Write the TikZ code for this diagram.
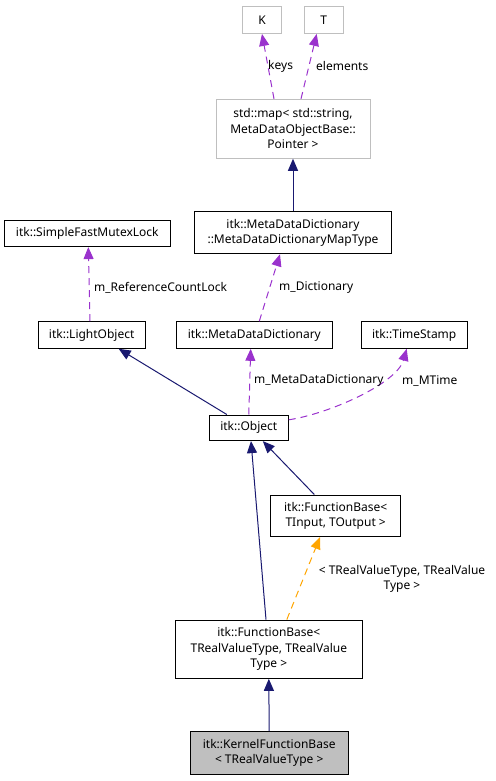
\documentclass[tikz,border=0pt]{standalone}
\usepackage{fontspec}
\setmainfont{Noto Sans}
\usetikzlibrary{arrows.meta}
\definecolor{edgenavy}{HTML}{191970}
\definecolor{edgepurple}{HTML}{9A32CD}
\definecolor{edgeorange}{HTML}{FFA500}
\definecolor{boxgray}{HTML}{BFBFBF}
\begin{document}
\begin{tikzpicture}[x=1pt,y=-1pt,font=\fontsize{12}{15.5}\selectfont,
    cls/.style={draw=black,line width=0.9pt,align=center,inner sep=0pt},
    extcls/.style={cls,draw=boxgray},
    inherit/.style={edgenavy,line width=1pt,-{Triangle[length=12pt,width=10pt]}},
    member/.style={edgepurple,line width=1pt,dash pattern=on 7pt off 5pt,-{Triangle[length=12pt,width=10pt]}},
    tmpl/.style={edgeorange,line width=1pt,dash pattern=on 7pt off 5pt,-{Triangle[length=12pt,width=10pt]}},
    lbl/.style={anchor=west,inner sep=0pt}]
  \useasboundingbox (0,0) rectangle (495,781);
  % classes
  \node[extcls,minimum width=39,minimum height=27] (K) at (262,20) {K};
  \node[extcls,minimum width=39,minimum height=27] (T) at (323.7,20) {T};
  \node[extcls,minimum width=154,minimum height=59] (map) at (293,128.8) {std::map< std::string,\\MetaDataObjectBase::\\Pointer >};
  \node[cls,minimum width=166.7,minimum height=26.7] (mutex) at (87.3,233.3) {itk::SimpleFastMutexLock};
  \node[cls,minimum width=197,minimum height=42] (maptype) at (293,232.8) {itk::MetaDataDictionary\\::MetaDataDictionaryMapType};
  \node[cls,minimum width=106.7,minimum height=26.7] (light) at (91.7,335) {itk::LightObject};
  \node[cls,minimum width=156.7,minimum height=26.7] (dict) at (254.3,335) {itk::MetaDataDictionary};
  \node[cls,minimum width=106.3,minimum height=26.7] (stamp) at (414.2,335) {itk::TimeStamp};
  \node[cls,minimum width=79,minimum height=25.7] (obj) at (248.8,427.8) {itk::Object};
  \node[cls,minimum width=130,minimum height=41.7] (fbio) at (335.7,515.8) {itk::FunctionBase<\\TInput, TOutput >};
  \node[cls,minimum width=187.7,minimum height=58.3] (fbreal) at (268.8,649.2) {itk::FunctionBase<\\TRealValueType, TRealValue\\Type >};
  \node[cls,fill=boxgray,minimum width=158.3,minimum height=42.3] (kernel) at (269.2,752.8) {itk::KernelFunctionBase\\< TRealValueType >};
  % connectors
  \draw[member] ([xshift=-19]map.north) -- (K.south);
  \draw[member] ([xshift=8]map.north) -- ([xshift=-7]T.south);
  \draw[inherit] (maptype.north) -- (map.south);
  \draw[member] ([xshift=-1.7]light.north) -- ([xshift=1]mutex.south);
  \draw[member] ([xshift=5]dict.north) -- ([xshift=-13]maptype.south);
  \draw[inherit] ([xshift=-22]obj.north) -- ([xshift=27]light.south);
  \draw[member] (obj.north) -- ([xshift=-3.6]dict.south);
  \draw[member] ([yshift=8]obj.east) .. controls +(40,-6) and +(-10,35) .. ([xshift=-7.5]stamp.south);
  \draw[inherit] ([xshift=-2.8]fbreal.north) -- ([xshift=2.2]obj.south);
  \draw[inherit] ([xshift=-21.4]fbio.north) -- ([xshift=14]obj.south);
  \draw[tmpl] ([xshift=18]fbreal.north) -- ([xshift=-15.7]fbio.south);
  \draw[inherit] (kernel.north) -- (fbreal.south);
  % labels
  \node[lbl] (keyslbl) at (268,66) {keys};
  \node[lbl] (elemlbl) at (316,66) {elements};
  \node[lbl] (locklbl) at (94,288) {m\_ReferenceCountLock};
  \node[lbl] (dictlbl) at (279,288) {m\_Dictionary};
  \node[lbl] (mddlbl) at (254,381) {m\_MetaDataDictionary};
  \node[lbl] (timelbl) at (402,381) {m\_MTime};
  \node[align=center,inner sep=0pt] (tmpllbl) at (402,579) {< TRealValueType, TRealValue\\Type >};
\end{tikzpicture}
\end{document}
